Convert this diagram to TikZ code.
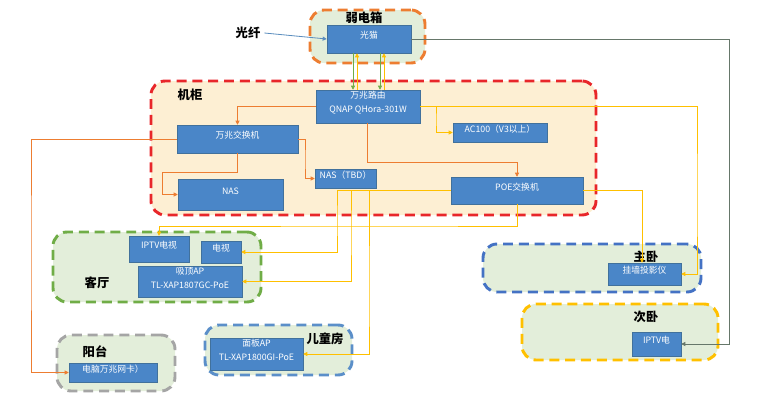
\documentclass[tikz,border=0pt]{standalone}
\usepackage{fontspec}
\setmainfont{Noto Sans CJK SC}
\usetikzlibrary{arrows.meta,fit}
\definecolor{devfill}{HTML}{4A86C8}
\definecolor{devline}{HTML}{41719C}
\definecolor{roomfill}{HTML}{E3EEDA}
\definecolor{cabfill}{HTML}{FDEFD3}
\definecolor{cbox}{HTML}{ED7D31}
\definecolor{ccab}{HTML}{E8262A}
\definecolor{cliving}{HTML}{70AD47}
\definecolor{cmaster}{HTML}{4472C4}
\definecolor{csecond}{HTML}{FFC000}
\definecolor{cbalcony}{HTML}{A5A5A5}
\definecolor{ckids}{HTML}{5B8FC9}
\definecolor{lorange}{HTML}{ED7D31}
\definecolor{lyellow}{HTML}{FFC000}
\definecolor{lgreen}{HTML}{70AD47}
\definecolor{lgray}{HTML}{66776A}
\definecolor{lblue}{HTML}{5B8DBE}
\tikzset{
  dev/.style={draw=devline,fill=devfill,text=white,inner sep=0pt,align=center,
    font=\fontsize{7.5}{12}\selectfont},
  room/.style={fill=roomfill,line width=2.5pt,rounded corners=12pt,inner sep=0pt,
    dash pattern=on 8.5pt off 5pt},
  ttl/.style={font=\fontsize{10.5}{12}\selectfont\bfseries},
  tip/.style={-{Triangle[length=3.5pt,width=3.5pt]}},
  org/.style={draw=lorange,line width=0.7pt,tip},
  yel/.style={draw=lyellow,line width=0.7pt,tip},
  grn/.style={draw=lgreen,line width=0.7pt,tip},
  gry/.style={draw=lgray,line width=0.7pt,tip},
  fib/.style={draw=lblue,line width=0.7pt,tip}
}
\begin{document}
\begin{tikzpicture}[x=0.03cm,y=-0.03cm]
\useasboundingbox (0,0) rectangle (780,414);
\node[room,draw=cbox,fit={(310,10)(425,63)}] (wbox) {};
\node[room,draw=ccab,fill=cabfill,fit={(151,81)(596,215)}] (cab) {};
\node[room,draw=cliving,fit={(53,232)(261,302)}] (living) {};
\node[room,draw=cmaster,fit={(483,244)(701,292)}] (master) {};
\node[room,draw=csecond,fit={(522,304)(718,360)}] (second) {};
\node[room,draw=cbalcony,fit={(57,335)(175,391)}] (balcony) {};
\node[room,draw=ckids,fit={(205,325)(352,375)}] (kids) {};
\node[ttl] (twbox) at (364,18) {弱电箱};
\node[ttl] (tcab) at (190,95) {机柜};
\node[ttl] (tliving) at (97,283) {客厅};
\node[ttl] (tmaster) at (646,257) {主卧};
\node[ttl] (tsecond) at (646,317) {次卧};
\node[ttl] (tbalcony) at (95,352) {阳台};
\node[ttl] (tkids) at (325,339) {儿童房};
\node[ttl] (fiber) at (248,33) {光纤};
\node[dev,fit={(327,25)(411,53)}] (modem) {光猫};
\node[dev,fit={(316,90)(420,123)}] (router) {万兆路由\\QNAP QHora-301W};
\node[dev,fit={(177,125)(298,153)}] (sw) {万兆交换机};
\node[dev,fit={(178,179)(283,210)}] (nas) {NAS};
\node[dev,fit={(315,169)(376,188)}] (nastbd) {NAS（TBD）};
\node[dev,fit={(453,123)(547,142)}] (ac) {AC100（V3以上）};
\node[dev,fit={(451,177)(583,204)}] (poe) {POE交换机};
\node[dev,fit={(129,236)(189,262)}] (iptv) {IPTV电视};
\node[dev,fit={(201,241)(241,263)}] (tv) {电视};
\node[dev,fit={(138,266)(242,297)}] (apceil) {吸顶AP\\TL-XAP1807GC-PoE};
\node[dev,fit={(608,263)(681,285)}] (proj) {挂墙投影仪};
\node[dev,fit={(632,332)(681,356)}] (iptvb) {IPTV电};
\node[dev,fit={(69,363)(157,382)}] (pc) {电脑万兆网卡）};
\node[dev,fit={(210,338)(303,370)}] (appanel) {面板AP\\TL-XAP1800GI-PoE};
\draw[fib] (fiber.east) -- (modem.west);
\draw[grn] (353,0 |- modem.south) -- (353,0 |- router.north);
\draw[yel] (357,0 |- router.north) -- (357,0 |- modem.south);
\draw[grn] (380,0 |- modem.south) -- (380,0 |- router.north);
\draw[yel] (384,0 |- router.north) -- (384,0 |- modem.south);
\draw[gry] (modem.east) -- (729,39) |- (iptvb.east);
\draw[org] (router.west) -| (sw.north);
\draw[org] (sw.south) |- (162,172) |- (nas.west);
\draw[org] (sw.east) -| (305,160) |- (nastbd.west);
\draw[org] (sw.west) -| (31,250) |- (pc.west);
\draw[org] (367,0 |- router.south) |- (poe.north |- 0,162) -- (poe.north);
\draw[yel] (router.east) -| (436,120) |- (ac.west);
\draw[yel] (router.east) -| (697,200) |- (proj.east);
\draw[yel] (poe.east) -| (642,0 |- proj.north);
\draw[yel] (poe.south) |- (400,226) -| (iptv.north);
\draw[yel] (poe.west) -| (337,220) |- (tv.east);
\draw[yel] (poe.west) -| (351,230) |- (apceil.east);
\draw[yel] (poe.west) -| (369,300) |- (appanel.east);
\end{tikzpicture}
\end{document}
